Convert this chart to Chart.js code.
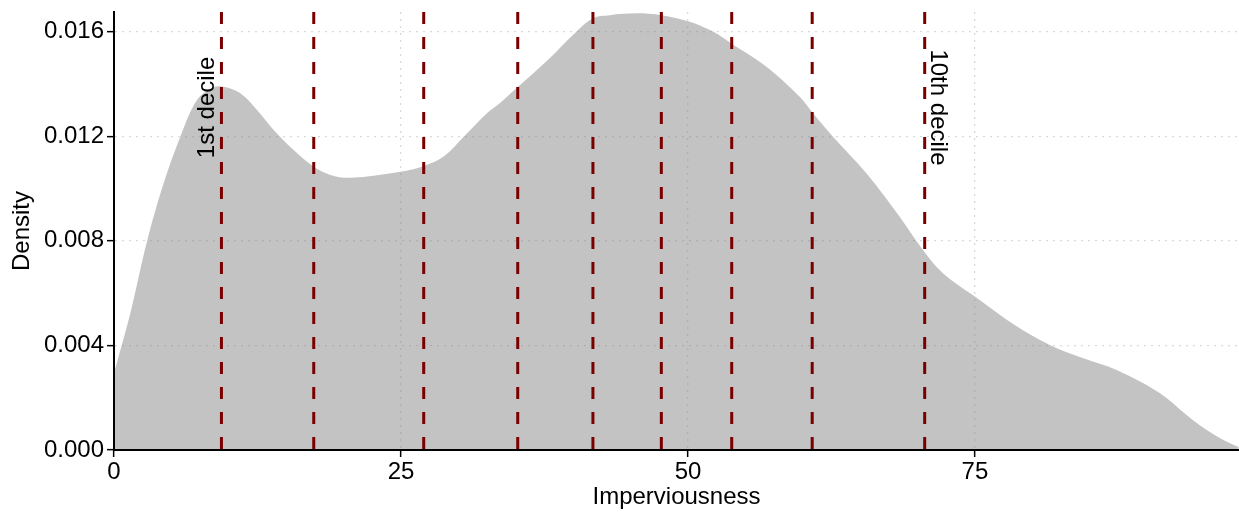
<!DOCTYPE html>
<html>
<head>
<meta charset="utf-8">
<script src="https://cdn.jsdelivr.net/npm/chart.js@4"></script>
<style>
  body { margin: 0; background: #fff; }
  #wrap { width: 1239px; height: 513px; }
</style>
</head>
<body>
<div id="wrap"><canvas id="grafik" width="1239" height="513"></canvas></div>
<script>
// ================= DATA =================
const impX = [0, 1.43, 2.87, 4.33, 5.78, 7.23, 8.68, 9.56, 11.01, 12.46, 13.91, 15.65, 17.4,
  18.85, 20.59, 24.95, 26.98, 28.72, 30.46, 32.49, 33.6, 35.05, 37.95, 39.98, 41.72, 43.18,
  45.5, 47.68, 50.15, 52.18, 53.78, 56.83, 59.73, 60.89, 62.63, 65.54, 68.44, 70.47, 72.21,
  75.41, 78.46, 81.51, 84.38, 87.34, 91.09, 93.97, 96.32, 97.97];
const densY = [0.00294, 0.00524, 0.00797, 0.01021, 0.01198, 0.01338, 0.01387, 0.01389,
  0.01364, 0.013, 0.01224, 0.01147, 0.01083, 0.01052, 0.01041, 0.01064, 0.01086, 0.01122,
  0.01198, 0.01288, 0.01326, 0.01383, 0.01498, 0.01587, 0.01651, 0.01663, 0.0167, 0.01663,
  0.01638, 0.016, 0.01555, 0.01466, 0.01351, 0.01288, 0.01198, 0.01058, 0.00892, 0.00765,
  0.00676, 0.00574, 0.00478, 0.00402, 0.00352, 0.00306, 0.00218, 0.00115, 0.00046, 0.00011];
const deciles = [9.36, 17.4, 26.98, 35.17, 41.72, 47.68, 53.81, 60.82, 70.62];
const xTicks = [0, 25, 50, 75];
const yTicks = [0, 0.004, 0.008, 0.012, 0.016];
const labelFirst = "1st decile";
const labelLast = "10th decile";
const labelY = 0.0131;

const xMax = 98;
const yMax = 0.01675;
const FONT = "'Liberation Sans', Arial, sans-serif";
const FSIZE = 24;

// ================= DATASETS =================
const datasets = [{
  data: impX.map((x, i) => ({ x: x, y: densY[i] })),
  fill: "origin",
  backgroundColor: "rgba(128,128,128,0.47)",
  borderWidth: 0,
  pointRadius: 0,
  tension: 0.35,
  order: 2,
}];

deciles.forEach((d) => {
  datasets.push({
    data: [{ x: d, y: yMax }, { x: d, y: 0 }],
    borderColor: "#7a0000",
    borderWidth: 3,
    borderDash: [12, 13],
    borderCapStyle: "butt",
    pointRadius: 0,
    fill: false,
    order: 1,
  });
});

// ================= LABEL DESIL =================
const decileLabels = {
  id: "decileLabels",
  afterDatasetsDraw(chart) {
    const { ctx, scales } = chart;
    const py = scales.y.getPixelForValue(labelY);
    ctx.save();
    ctx.fillStyle = "#000";
    ctx.font = FSIZE + "px " + FONT;
    ctx.textAlign = "center";
    ctx.textBaseline = "middle";

    const x1 = scales.x.getPixelForValue(deciles[0]);
    ctx.save();
    ctx.translate(x1 - 14, py);
    ctx.rotate(-Math.PI / 2);
    ctx.fillText(labelFirst, 0, 0);
    ctx.restore();

    const x10 = scales.x.getPixelForValue(deciles[deciles.length - 1]);
    ctx.save();
    ctx.translate(x10 + 13, py);
    ctx.rotate(Math.PI / 2);
    ctx.fillText(labelLast, 0, 0);
    ctx.restore();

    ctx.restore();
  },
};

const gridOpts = {
  color: "#d9d9d9",
  lineWidth: 1.3,
  tickColor: "#000",
  tickLength: 7,
  tickWidth: 1.5,
  tickBorderDash: [],
};

// ================= GRAFIK =================
new Chart(document.getElementById("grafik"), {
  type: "line",
  data: { datasets: datasets },
  options: {
    responsive: false,
    animation: false,
    layout: { padding: { top: 12, right: 0, left: 0, bottom: 0 } },
    plugins: { legend: { display: false }, tooltip: { enabled: false } },
    scales: {
      x: {
        type: "linear",
        min: 0,
        max: xMax,
        afterFit: (s) => {
          s.height = 63;
          s.paddingLeft = 0;
          s.paddingRight = 0;
        },
        afterBuildTicks: (s) => { s.ticks = xTicks.map((v) => ({ value: v })); },
        ticks: {
          color: "#000",
          font: { family: FONT, size: FSIZE },
          padding: 1,
          maxRotation: 0,
        },
        grid: gridOpts,
        border: { color: "#000", width: 2, z: 1, dash: [2, 5] },
        title: {
          display: true,
          text: "Imperviousness",
          color: "#000",
          font: { family: FONT, size: FSIZE },
          padding: { top: 0, bottom: 1 },
        },
      },
      y: {
        min: 0,
        max: yMax,
        afterFit: (s) => {
          s.width = 114;
          s.paddingTop = 0;
          s.paddingBottom = 0;
        },
        afterBuildTicks: (s) => { s.ticks = yTicks.map((v) => ({ value: v })); },
        ticks: {
          color: "#000",
          font: { family: FONT, size: FSIZE },
          padding: 3,
          callback: (v) => v.toFixed(3),
        },
        grid: gridOpts,
        border: { color: "#000", width: 2, z: 1, dash: [2, 5] },
        title: {
          display: true,
          text: "Density",
          color: "#000",
          font: { family: FONT, size: FSIZE },
          padding: { top: 8, bottom: 0 },
        },
      },
    },
  },
  plugins: [decileLabels],
});
</script>
</body>
</html>
